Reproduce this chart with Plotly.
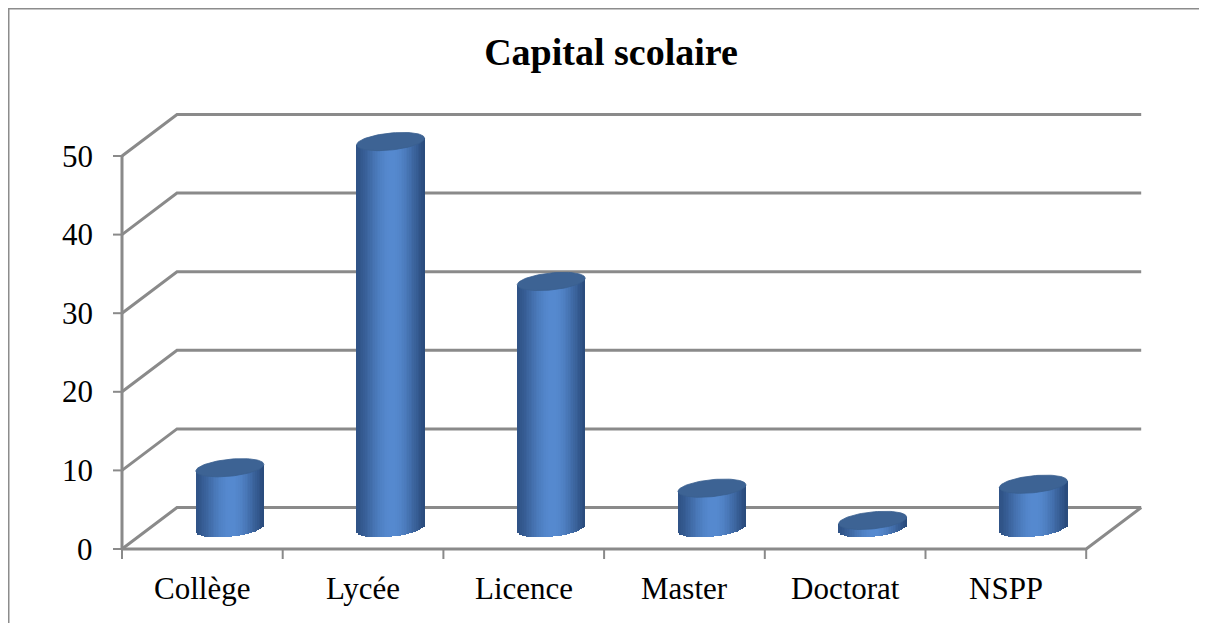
import numpy as np
import plotly.graph_objects as go

# ---- data ----
categories = ["Collège", "Lycée", "Licence", "Master", "Doctorat", "NSPP"]
values = [7.7, 49.2, 31.4, 5.1, 1.0, 5.6]
y_ticks = [0, 10, 20, 30, 40, 50]
title_text = "Capital scolaire"

# ---- geometry (pixels of the reference page) ----
W, H = 1207, 623
OFF = 8                 # page body margin
PX_CAT = 160.7          # px per category
PY_UNIT = 7.86          # px per value unit
AX_LEFT_PX = 122        # front y axis pixel
AX_ZERO_PX = 549        # front zero pixel
DEPTH_DX_PX, DEPTH_DY_PX = 55, 41.5
PLOT_L, PLOT_R, PLOT_T, PLOT_B = 100, 1150, 100, 565

dx = DEPTH_DX_PX / PX_CAT
dy = DEPTH_DY_PX / PY_UNIT
xmin = -0.5 - (AX_LEFT_PX - PLOT_L) / PX_CAT
xmax = xmin + (PLOT_R - PLOT_L) / PX_CAT
ymin = -(PLOT_B - AX_ZERO_PX) / PY_UNIT
ymax = (AX_ZERO_PX - PLOT_T) / PY_UNIT

n = len(categories)
GRID = "#8a8a8a"
FONT = "Liberation Serif"

fig = go.Figure()

# ---- cylinders: side strips as bars ----
r = 34 / PX_CAT
b = 8.5 / PY_UNIT
k = 3.3 / PY_UNIT
yc = dy / 2
xc = np.arange(n) + dx / 2
vals = np.array(values)

dark = np.array([40, 72, 120])
bright = np.array([86, 138, 208])
NS = 40
for j in range(NS):
    u = -1 + (j + 0.5) * 2 / NS
    a = u - 0.05
    s = max(0.0, np.cos(np.clip(a, -1, 1) * np.pi / 2)) ** 1.3
    if u < 0:
        s = 0.18 + 0.82 * s
    col = dark + (bright - dark) * s
    base = yc - b * np.sqrt(max(0.0, 1 - u * u)) + k * u
    top = yc + vals + k * u
    fig.add_trace(go.Bar(
        x=xc + u * r, y=top - base, base=[base] * n,
        width=2 * r / NS * 1.2,
        marker=dict(color="rgb(%d,%d,%d)" % tuple(col.astype(int)), line=dict(width=0)),
        hoverinfo="skip", showlegend=False,
    ))

# ---- cylinder tops ----
t = np.linspace(0, 2 * np.pi, 80)
ex, ey = [], []
for i in range(n):
    ex += list(xc[i] + r * np.cos(t)) + [None]
    ey += list(yc + vals[i] + b * np.sin(t) + k * np.cos(t)) + [None]
fig.add_trace(go.Scatter(
    x=ex, y=ey, mode="lines", fill="toself",
    fillcolor="#3d6394", line=dict(color="#3a5f8f", width=0.8),
    hoverinfo="skip", showlegend=False,
))

# ---- walls / gridlines ----
shapes = []
x_front_l, x_front_r = -0.5, n - 0.5
for v in y_ticks:
    shapes.append(dict(
        type="path", xref="x", yref="y", layer="below",
        path="M %f %f L %f %f L %f %f" % (x_front_l, v, x_front_l + dx, v + dy, x_front_r + dx, v + dy),
        line=dict(color=GRID, width=3),
    ))
shapes.append(dict(type="path", xref="x", yref="y", layer="below",
                   path="M %f 0 L %f 0 L %f %f" % (x_front_l, x_front_r, x_front_r + dx, dy),
                   line=dict(color=GRID, width=3)))
shapes.append(dict(type="line", xref="x", yref="y", layer="below",
                   x0=x_front_l, x1=x_front_l, y0=0, y1=y_ticks[-1],
                   line=dict(color=GRID, width=3)))
for v in y_ticks:
    shapes.append(dict(type="line", xref="x", yref="y", layer="below",
                       x0=x_front_l - 9 / PX_CAT, x1=x_front_l, y0=v, y1=v,
                       line=dict(color=GRID, width=2)))
for i in range(n + 1):
    xb = -0.5 + i
    shapes.append(dict(type="line", xref="x", yref="y", layer="below",
                       x0=xb, x1=xb, y0=0, y1=-10 / PY_UNIT,
                       line=dict(color=GRID, width=2)))

# outer border (paper coordinates; page pixels -> paper)
def px2paper_x(px):
    return (px - PLOT_L) / (PLOT_R - PLOT_L)

def px2paper_y(py):
    return (PLOT_B - py) / (PLOT_B - PLOT_T)

shapes.append(dict(type="rect", xref="paper", yref="paper", layer="below",
                   x0=px2paper_x(OFF + 0.75), x1=px2paper_x(1240),
                   y0=px2paper_y(680), y1=px2paper_y(OFF + 0.75),
                   line=dict(color="#8c8c8c", width=1.5)))

# ---- text ----
annotations = []
for v in y_ticks:
    annotations.append(dict(x=x_front_l, y=v, xref="x", yref="y", text=str(v),
                            showarrow=False, xanchor="right", yanchor="middle",
                            xshift=-27, font=dict(family=FONT, size=31, color="black")))
for i, c in enumerate(categories):
    annotations.append(dict(x=i, y=0, xref="x", yref="y", text=c,
                            showarrow=False, xanchor="center", yanchor="middle",
                            yshift=-39, font=dict(family=FONT, size=31, color="black")))

FW, FH = W - OFF, H - OFF
fig.update_layout(
    width=FW, height=FH, autosize=False,
    margin=dict(l=PLOT_L - OFF, r=W - PLOT_R, t=PLOT_T - OFF, b=H - PLOT_B),
    paper_bgcolor="white", plot_bgcolor="white",
    barmode="overlay", bargap=0,
    xaxis=dict(range=[xmin, xmax], visible=False, fixedrange=True),
    yaxis=dict(range=[ymin, ymax], visible=False, fixedrange=True),
    shapes=shapes, annotations=annotations,
    title=dict(text="<b>%s</b>" % title_text, x=(611 - OFF) / FW, xref="container",
               y=1 - (52 - OFF) / FH, yref="container", xanchor="center", yanchor="middle",
               font=dict(family=FONT, size=38, color="black")),
    showlegend=False,
)

fig.write_html("out.html")
